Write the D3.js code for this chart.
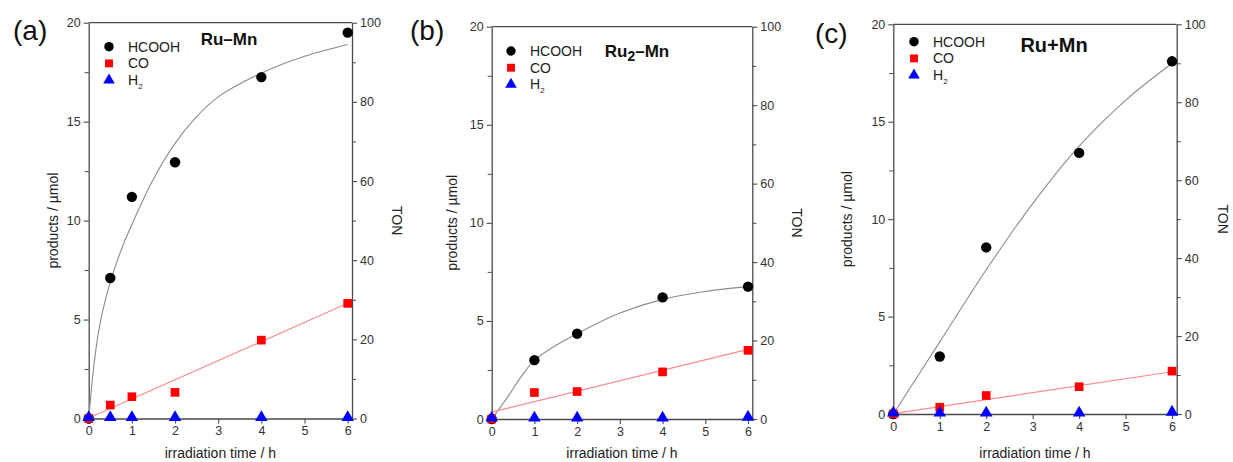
<!DOCTYPE html>
<html><head><meta charset="utf-8">
<script src="https://cdn.jsdelivr.net/npm/d3@7/dist/d3.min.js"></script>
<style>body{margin:0;background:#fff}svg{display:block;font-family:"Liberation Sans",Arial,sans-serif}</style>
</head><body>
<svg id="c" width="1233" height="462"></svg>
<script>
// ---- data ----
const xTicks = [0,1,2,3,4,5,6];
const yTicks = [0,5,10,15,20];
const tonTicks = [0,20,40,60,80,100];

const timesA = [0,0.5,1,2,4,6];
const hcoohA = [0,7.1,11.2,12.95,17.25,19.5];
const coA    = [0,0.68,1.1,1.32,3.96,5.82];
const h2A    = [0,0,0,0,0,0];
const fitTA  = [0,0.05,0.1,0.2,0.3,0.5,0.75,1,1.5,2,2.5,3,4,5,6];
const fitYA  = [0,1.2,2.3,4.0,5.2,6.9,8.5,9.8,12.1,13.9,15.25,16.25,17.45,18.3,18.9];
const coFitTA = [0,6];
const coFitYA = [0.02,5.82];

const timesB = [0,1,2,4,6];
const hcoohB = [0,3.0,4.35,6.2,6.75];
const coB    = [0,1.35,1.4,2.4,3.5];
const h2B    = [0,0,0,0,0.05];
const fitTB  = [0,0.38,0.69,1,1.5,2,3,4,5,6];
const fitYB  = [0,1.14,2.16,3.0,3.75,4.35,5.4,6.1,6.5,6.75];
const coFitTB = [0,6];
const coFitYB = [0.35,3.55];

const timesC = [0,1,2,4,6];
const hcoohC = [0,2.95,8.55,13.4,18.1];
const coC    = [0,0.35,0.95,1.4,2.2];
const h2C    = [0,0,0,0,0.05];
const fitTC  = [0,1,2,3,4,5,6];
const fitYC  = [0,3.7,7.4,10.8,13.75,16.1,18.0];
const coFitTC = [0,6];
const coFitYC = [0.02,2.17];

const legendNames = ["HCOOH","CO","H"];

// ---- layout ----
const panels = [
  {id:"(a)", title:"Ru", title2:"", title3:"–Mn", tSize:17, l:88.7, r:352, t:22.7, b:418.5,
   times:timesA, hc:hcoohA, co:coA, h2:h2A, ft:fitTA, fy:fitYA, ct:coFitTA, cy:coFitYA,
   labX:13, labY:40, titleX:229, titleY:45, legX:109, legY:46.7, prodX:53, tonX:397},
  {id:"(b)", title:"Ru", title2:"2", title3:"–Mn", tSize:17, l:491.7, r:752.3, t:26.7, b:419,
   times:timesB, hc:hcoohB, co:coB, h2:h2B, ft:fitTB, fy:fitYB, ct:coFitTB, cy:coFitYB,
   labX:410, labY:40, titleX:637, titleY:57, legX:511, legY:51, prodX:452, tonX:797},
  {id:"(c)", title:"Ru+Mn", title2:"", title3:"", tSize:20, l:893.3, r:1176.7, t:24.3, b:414,
   times:timesC, hc:hcoohC, co:coC, h2:h2C, ft:fitTC, fy:fitYC, ct:coFitTC, cy:coFitYC,
   labX:815, labY:43, titleX:1054, titleY:52, legX:914, legY:41.7, prodX:847, tonX:1223}
];

const svg = d3.select("#c");
const axisCol = "#4a4a4a", txtCol = "#333";

panels.forEach(p => {
  const x = d3.scaleLinear().domain([0,6.1]).range([p.l,p.r]);
  const y = d3.scaleLinear().domain([0,20]).range([p.b,p.t]);
  const yT = d3.scaleLinear().domain([0,100]).range([p.b,p.t]);
  const g = svg.append("g");

  g.append("line").attr("x1",p.l).attr("x2",p.r).attr("y1",p.t).attr("y2",p.t)
    .attr("stroke",axisCol).attr("stroke-width",1.3);

  const style = sel => {
    sel.select(".domain").attr("stroke",axisCol).attr("stroke-width",1.3);
    sel.selectAll(".tick line").attr("stroke",axisCol).attr("stroke-width",1.1);
    sel.selectAll(".tick text").attr("fill",txtCol).style("font-size","12.5px")
       .style("font-family","Liberation Sans, Arial, sans-serif");
  };
  const fmt = d3.format("d");

  const minorLeft = d3.axisLeft(y).tickValues([2.5,7.5,12.5,17.5]).tickSize(4).tickFormat("");
  g.append("g").attr("transform",`translate(${p.l},0)`).call(minorLeft).call(s=>{s.select(".domain").remove();s.selectAll("line").attr("stroke",axisCol);});
  const minorRight = d3.axisRight(yT).tickValues([10,30,50,70,90]).tickSize(4).tickFormat("");
  g.append("g").attr("transform",`translate(${p.r},0)`).call(minorRight).call(s=>{s.select(".domain").remove();s.selectAll("line").attr("stroke",axisCol);});

  g.append("g").attr("transform",`translate(0,${p.b})`)
    .call(d3.axisBottom(x).tickValues(xTicks).tickFormat(fmt).tickSize(5).tickSizeOuter(0).tickPadding(3)).call(style);
  g.append("g").attr("transform",`translate(${p.l},0)`)
    .call(d3.axisLeft(y).tickValues(yTicks).tickFormat(fmt).tickSize(5).tickSizeOuter(0).tickPadding(3)).call(style);
  g.append("g").attr("transform",`translate(${p.r},0)`)
    .call(d3.axisRight(yT).tickValues(tonTicks).tickFormat(fmt).tickSize(5).tickSizeOuter(0).tickPadding(3)).call(style);

  g.append("text").attr("x",(p.l+p.r)/2).attr("y",458).attr("text-anchor","middle")
    .attr("fill","#222").style("font-size","14px").text("irradiation time / h");
  g.append("text").attr("transform",`translate(${p.prodX},${(p.t+p.b)/2}) rotate(-90)`)
    .attr("text-anchor","middle").attr("dy","0.35em").attr("fill","#222").style("font-size","14px").text("products / µmol");
  g.append("text").attr("transform",`translate(${p.tonX},${(p.t+p.b)/2}) rotate(90)`)
    .attr("text-anchor","middle").attr("dy","0.35em").attr("fill","#222").style("font-size","14px").text("TON");

  g.append("text").attr("x",p.labX).attr("y",p.labY).attr("fill","#111").style("font-size","28px").text(p.id);

  const tt = g.append("text").attr("x",p.titleX).attr("y",p.titleY).attr("text-anchor","middle")
    .attr("fill","#111").style("font-size",p.tSize+"px").style("font-weight","bold");
  tt.append("tspan").text(p.title);
  if (p.title2) {
    tt.append("tspan").attr("dy",4).style("font-size","14px").text(p.title2);
    tt.append("tspan").attr("dy",-4).text(p.title3);
  } else if (p.title3) tt.append("tspan").text(p.title3);

  const line = d3.line().x(d=>x(d[0])).y(d=>y(d[1])).curve(d3.curveCatmullRom.alpha(0.5));
  g.append("path").attr("d",line(p.ft.map((t,i)=>[t,p.fy[i]]))).attr("fill","none")
    .attr("stroke","#8c8c8c").attr("stroke-width",1.1);
  g.append("path").attr("d",line(p.ct.map((t,i)=>[t,p.cy[i]]))).attr("fill","none")
    .attr("stroke","#ff8a8a").attr("stroke-width",1.1);

  const circ = d3.symbol().type(d3.symbolCircle).size(85);
  const sq = d3.symbol().type(d3.symbolSquare).size(75);
  const tri = d3.symbol().type(d3.symbolTriangle).size(68);
  g.selectAll(".hc").data(p.times).join("path").attr("d",circ)
    .attr("transform",(t,i)=>`translate(${x(t)},${y(p.hc[i])})`).attr("fill","#000");
  g.selectAll(".co").data(p.times).join("path").attr("d",sq)
    .attr("transform",(t,i)=>`translate(${x(t)},${y(p.co[i])})`).attr("fill","#ff0000");
  g.selectAll(".h2").data(p.times).join("path").attr("d",tri)
    .attr("transform",(t,i)=>`translate(${x(t)},${y(p.h2[i])-1})`).attr("fill","#0000ff");

  const lg = g.append("g");
  const syms = [[d3.symbol().type(d3.symbolCircle).size(70),"#000"],[d3.symbol().type(d3.symbolSquare).size(62),"#ff0000"],[d3.symbol().type(d3.symbolTriangle).size(58),"#0000ff"]];
  legendNames.forEach((n,i)=>{
    const yy = p.legY + i*16.7;
    lg.append("path").attr("d",syms[i][0]).attr("transform",`translate(${p.legX},${yy})`).attr("fill",syms[i][1]);
    const tx = lg.append("text").attr("x",p.legX+19).attr("y",yy).attr("dy","0.36em")
      .attr("fill","#222").style("font-size","14px").text(n);
    if (i===2) tx.append("tspan").attr("dy",4).style("font-size","8px").text("2");
  });
});
</script>
</body></html>
